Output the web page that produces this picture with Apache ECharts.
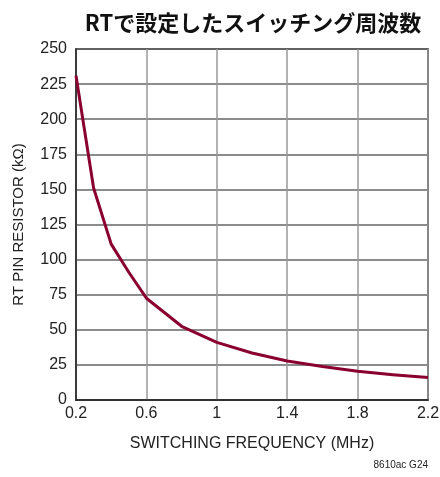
<!DOCTYPE html>
<html>
<head>
<meta charset="utf-8">
<script src="https://cdn.jsdelivr.net/npm/echarts@6/dist/echarts.min.js"></script>
<style>
  html, body { margin: 0; padding: 0; background: #fff; }
  #main { width: 440px; height: 477px; }
</style>
</head>
<body>
<div id="main"></div>
<script>
// RT抵抗 vs スイッチング周波数
const freqMHz = [0.2, 0.3, 0.4, 0.5, 0.6, 0.8, 1.0, 1.2, 1.4, 1.6, 1.8, 2.0, 2.2];
const rtKOhm  = [231, 151, 111, 91, 72.5, 52.5, 41, 33.5, 27.8, 23.8, 20.5, 18, 16];
const yTicks = [0, 25, 50, 75, 100, 125, 150, 175, 200, 225, 250];
const xTicks = [0.2, 0.6, 1, 1.4, 1.8, 2.2];

const FONT = '"Liberation Sans Narrow", "Liberation Sans", sans-serif';

const chart = echarts.init(document.getElementById('main'));

const option = {
  animation: false,
  title: {
    text: 'RTで設定したスイッチング周波数',
    left: 248,
    textAlign: 'center',
    top: 7,
    textStyle: {
      fontFamily: '"Noto Sans CJK JP", sans-serif',
      fontWeight: 'bold',
      fontSize: 22,
      color: '#111'
    }
  },
  grid: {
    left: 76, right: 12, top: 49, bottom: 77,
    show: true, borderColor: '#222', borderWidth: 1.5,
    outerBoundsMode: 'none'
  },
  graphic: [{
    type: 'text',
    right: 12,
    top: 460,
    style: { text: '8610ac G24', font: '10px ' + FONT, fill: '#222' }
  }],
  xAxis: {
    type: 'value',
    min: xTicks[0],
    max: xTicks[xTicks.length - 1],
    interval: 0.4,
    name: 'SWITCHING FREQUENCY (MHz)',
    nameLocation: 'middle',
    nameGap: 36,
    nameTextStyle: { fontFamily: FONT, fontSize: 16, color: '#222' },
    axisLine: { lineStyle: { color: '#222', width: 1.5 } },
    axisTick: { show: false },
    axisLabel: {
      fontFamily: FONT, fontSize: 16, color: '#222', margin: 6,
      formatter: v => String(+v.toFixed(1))
    },
    splitLine: { lineStyle: { color: '#999', width: 1.5 } }
  },
  yAxis: {
    type: 'value',
    min: yTicks[0],
    max: yTicks[yTicks.length - 1],
    interval: 25,
    name: 'RT PIN RESISTOR (kΩ)',
    nameLocation: 'middle',
    nameGap: 50,
    nameTextStyle: { fontFamily: FONT, fontSize: 15, color: '#222' },
    axisLine: { lineStyle: { color: '#222', width: 1.5 } },
    axisTick: { show: false },
    axisLabel: { fontFamily: FONT, fontSize: 16, color: '#222', margin: 9 },
    splitLine: { lineStyle: { color: '#666', width: 1.5 } }
  },
  series: [{
    type: 'line',
    data: freqMHz.map((f, i) => [f, rtKOhm[i]]),
    smooth: false,
    showSymbol: false,
    lineStyle: { color: '#8a0030', width: 3, join: 'round' }
  }]
};

chart.setOption(option);
</script>
</body>
</html>
